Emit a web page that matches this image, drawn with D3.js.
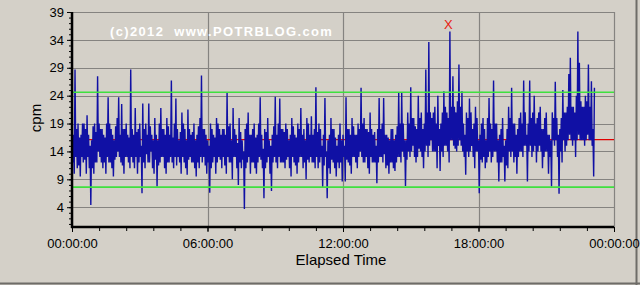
<!DOCTYPE html>
<html>
<head>
<meta charset="utf-8">
<script src="https://cdn.jsdelivr.net/npm/d3@7"></script>
<style>
  body { margin: 0; background: #d4d0c8; }
  svg { display: block; font-family: "Liberation Sans", Arial, sans-serif; }
</style>
</head>
<body>
<div id="chart"></div>
<script>
// counts per minute, one reading every 2 minutes
var cpm = [
  18,12, 17,10, 28.7,13, 18,11, 19,11.5, 16.5,9.5, 17,13, 19,12, 19,12.5, 18,10, 20.5,13, 17,11, 15,4.4, 16,11, 18.5,10, 19,12, 17.5,12, 27.5,14, 19,13, 18,12,
  18,11, 17,12, 16.5,10, 19,13, 23.7,12, 19,12, 18,11, 17,9.5, 16,12.5, 18.5,13, 20,14, 23.7,13, 17,12, 22.5,11.5, 18,10, 18,13, 19,13, 17,12, 16.5,11, 28.7,13,
  18,12, 17,11, 21.8,13, 17.5,10, 18,12, 19,13, 15,6.5, 22.6,12, 18,11, 19,13.5, 17,12, 22.6,12, 18.5,14, 17,11, 16,10, 20,12.5, 17,7.7, 16,11.5, 19,12, 21.8,13,
  18,13, 18,11, 17,10, 20,12, 18.5,12, 17,13, 26.7,12, 16.5,11, 19,13, 23.5,11.5, 18,13, 16,12, 17.5,10, 21,13, 19,12, 18,11, 16,9.8, 21.5,12.5, 18,13, 17,12,
  17.5,12, 19,11, 16,9.5, 17,12, 18.5,11, 20,13, 27.6,12, 18,13, 18,11.5, 17,10, 16,12, 15,6.6, 19,11, 18,12, 17,13, 16.5,10, 20,12, 19,13, 18,12.5, 17,11,
  18,13, 18,11.5, 17,10, 24.5,13, 18.5,12, 19,12, 16,9, 21.8,13, 18,13, 17,11, 15.5,8, 20,12, 17.5,11, 16,12.5, 14,3.7, 18,11, 19,12, 21,13, 17,10, 17,12,
  18,12, 19,11, 16.5,10, 17,12, 19,13, 23.7,12.5, 17,11, 14.5,5.6, 18,11, 17.5,12, 20,13, 16,10, 15,6.9, 17,12, 18.5,13, 23.8,12, 17,11, 19,13, 23.5,12, 18,12,
  18,12, 17.5,11, 19,12.5, 18,13, 16,11, 17,9.5, 20,13, 18.5,12, 17,11.5, 16.5,10, 19,12, 18,13, 21.8,13, 17,11, 18,12, 16,9, 20,12.5, 19,12, 17,13, 20.3,12,
  17,12, 18,11, 25.5,13, 17.5,11, 19,12, 18,13, 15,7.6, 17,11.5, 23.6,13, 14,5.6, 16,11, 17,10, 20,12.5, 18,12, 18,11, 16.5,9.5, 15,12, 17,11, 19,12, 16,8.6,
  17,13, 15,8.6, 23.7,12.5, 18,12, 18,11.5, 17,10, 20,13, 18.5,13, 17,12, 17,11, 19,13, 18,14, 25.4,13, 19,12, 20,12, 18,13, 18,11, 17.5,10, 21,13, 18,12,
  17,12, 17.5,12, 15,8.3, 18,12, 23.6,13, 18,13, 19,12, 23.6,13.5, 17,11, 17,11.5, 16.5,10, 16,12, 18,12, 18,11, 16,10.5, 17,12, 18.5,13, 24.6,13, 19,12, 24.6,14,
  19,13, 16,7.8, 16,12.5, 21,14, 19,13, 25.5,14, 20,15, 20,13, 18.5,12, 18,13, 24,14.5, 20,14, 21,13, 18,11, 19,14, 28.7,15, 21,13, 33.6,15, 21,16, 20,14,
  21,14, 22,14, 19,11, 24,15, 18,10.5, 19,14, 21,13, 24.8,15, 22,15, 21,14, 20,12, 35.5,16, 22,16, 27.5,15, 22,14.5, 21,14, 23,15, 29.6,16, 22,15, 24.8,14,
  19,13, 17,9.8, 21,14, 20,13, 23.5,14, 21,15, 18,13, 19,11, 22,14, 20,14, 16,6.5, 17,12.5, 19,12, 20,13, 18,11, 16,12, 20,13, 23.6,14, 19,12, 18,13,
  26.7,14, 19,14, 19,12, 16,8.6, 17,12, 18,12, 20,13, 15,8.6, 16,11.5, 18,11, 22,14, 20,13, 25.4,14, 19,12, 19,13, 17,10, 18,13, 20,14, 21,14, 19,13,
  26.7,15, 21,15, 17,8.6, 19,14, 26.7,15, 20,13, 21,14, 24,15, 19,12, 20,14, 21,15, 22,14, 18,11, 18,13, 20,14, 21,14, 17,10, 17,13, 16,7.7, 21,16,
  20,15, 26.5,16, 20,13, 17,6.4, 18,14, 20,12, 25,16, 21,14, 21,15, 22,16, 27.9,17, 30.8,16, 22,15, 22,16, 21,13, 24,16, 35.5,17, 29.9,16, 23,16, 22,16,
  22,15, 24,16, 23,17, 29.6,16, 22,16, 26.6,15, 18,9.5, 25.4
];
var sampleMinutes = 2;

var meanCpm = 16.1;
var upperLimit = 24.6;
var lowerLimit = 7.6;

var yTicks = [4, 9, 14, 19, 24, 29, 34, 39];
var xTicks = [0, 6, 12, 18, 24];
var xTickLabels = ["00:00:00", "06:00:00", "12:00:00", "18:00:00", "00:00:00"];

var W = 640, H = 285;
var margin = { top: 12, right: 26, bottom: 58, left: 72 },
  width = W - margin.left - margin.right,
  height = H - margin.top - margin.bottom;

var root = d3.select("#chart").append("svg")
  .attr("width", W)
  .attr("height", H);

root.append("rect").attr("width", W).attr("height", H).attr("fill", "#d4d0c8");
// window frame
root.append("line").attr("x1", 0).attr("x2", W).attr("y1", 283.5).attr("y2", 283.5)
  .attr("stroke", "#6e6c68").attr("stroke-width", 2);
root.append("line").attr("x1", 636.5).attr("x2", 636.5).attr("y1", 0).attr("y2", H)
  .attr("stroke", "#6e6c68").attr("stroke-width", 2);

var svg = root.append("g")
  .attr("transform", "translate(" + margin.left + "," + margin.top + ")");

var x = d3.scaleLinear().domain([0, 24]).range([0, width]);
var y = d3.scaleLinear().domain([0.45, 39]).range([height, 0]);

// grid
svg.selectAll("hgrid").data(yTicks).enter().append("line")
  .attr("x1", 0).attr("x2", width)
  .attr("y1", function (d) { return Math.round(y(d)) + 0.5; })
  .attr("y2", function (d) { return Math.round(y(d)) + 0.5; })
  .attr("stroke", "#858380").attr("stroke-width", 1.2);
svg.selectAll("vgrid").data(xTicks).enter().append("line")
  .attr("x1", function (d) { return Math.round(x(d)) + 0.5; })
  .attr("x2", function (d) { return Math.round(x(d)) + 0.5; })
  .attr("y1", 0).attr("y2", height)
  .attr("stroke", "#858380").attr("stroke-width", 1.2);

// mean line sits under the trace
svg.append("line")
  .attr("x1", 0).attr("x2", width)
  .attr("y1", y(meanCpm)).attr("y2", y(meanCpm))
  .attr("stroke", "#e00000").attr("stroke-width", 1.2);

// trace
var line = d3.line()
  .x(function (d, i) { return x(i * sampleMinutes / 60); })
  .y(function (d) { return y(d); });
svg.append("path")
  .datum(cpm)
  .attr("d", line)
  .attr("fill", "none")
  .attr("stroke", "#1010a4")
  .attr("stroke-width", 1.4);

// limit lines
[upperLimit, lowerLimit].forEach(function (v) {
  svg.append("line")
    .attr("x1", 0).attr("x2", width)
    .attr("y1", y(v)).attr("y2", y(v))
    .attr("stroke", "#3fe03f").attr("stroke-width", 1.6);
});

// peak marker
var peakIdx = d3.maxIndex(cpm);
svg.append("text")
  .attr("x", x(peakIdx * sampleMinutes / 60) - 1.5)
  .attr("y", y(cpm[peakIdx]) - 3)
  .attr("text-anchor", "middle")
  .attr("fill", "#e81a10")
  .style("font-size", "13px")
  .text("X");

// Y axis
var yAxis = svg.append("g")
  .call(d3.axisLeft(y).tickValues(yTicks).tickSize(5).tickPadding(3))
  .style("font-size", "13px").style("font-family", "Liberation Sans, Arial, sans-serif");
yAxis.select(".domain").remove();
yAxis.selectAll("line").attr("stroke", "#000");
yAxis.selectAll("text").attr("fill", "#000");
svg.append("g")
  .call(d3.axisLeft(y).tickValues(d3.range(1, 39)).tickSize(3).tickFormat(""))
  .call(function (g) { g.select(".domain").remove(); })
  .selectAll("line").attr("stroke", "#000");

// X axis
var xAxis = svg.append("g")
  .attr("transform", "translate(0," + height + ")")
  .call(d3.axisBottom(x).tickValues(xTicks).tickSize(5).tickPadding(7)
    .tickFormat(function (d, i) { return xTickLabels[i]; }))
  .style("font-size", "13px").style("font-family", "Liberation Sans, Arial, sans-serif");
xAxis.select(".domain").remove();
xAxis.selectAll("line").attr("stroke", "#000");
xAxis.selectAll("text").attr("fill", "#000");
svg.append("g")
  .attr("transform", "translate(0," + height + ")")
  .call(d3.axisBottom(x).tickValues(d3.range(0, 24.01, 1.2)).tickSize(4).tickFormat(""))
  .call(function (g) { g.select(".domain").remove(); })
  .selectAll("line").attr("stroke", "#000");

// thick axis lines
svg.append("line").attr("x1", 0).attr("x2", 0).attr("y1", 0).attr("y2", height + 1)
  .attr("stroke", "#000").attr("stroke-width", 2.5);
svg.append("line").attr("x1", -1).attr("x2", width).attr("y1", height).attr("y2", height)
  .attr("stroke", "#000").attr("stroke-width", 2.5);

// axis titles
svg.append("text")
  .attr("transform", "rotate(-90)")
  .attr("x", -(118 - margin.top))
  .attr("y", 41 - margin.left)
  .attr("text-anchor", "middle")
  .style("font-size", "15px")
  .text("cpm");

svg.append("text")
  .attr("x", 341 - margin.left)
  .attr("y", 265 - margin.top)
  .attr("text-anchor", "middle")
  .style("font-size", "15px")
  .text("Elapsed Time");

// watermark
svg.append("text")
  .attr("x", 110 - margin.left)
  .attr("y", 36 - margin.top)
  .attr("fill", "#ffffff")
  .style("font-size", "13px")
  .style("font-weight", "bold")
  .style("letter-spacing", "1.35px")
  .style("white-space", "pre")
  .attr("xml:space", "preserve")
  .text("(c)2012  www.POTRBLOG.com");
</script>
</body>
</html>
